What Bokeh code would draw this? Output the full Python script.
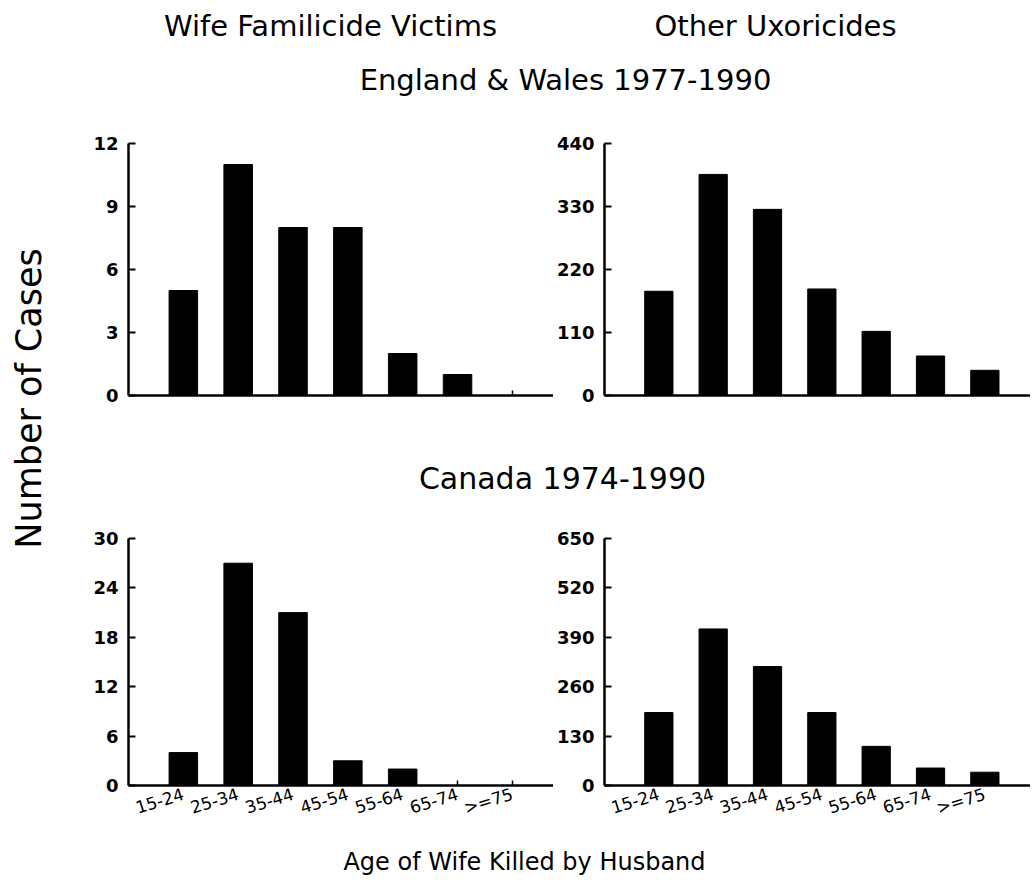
import math
from bokeh.plotting import figure
from bokeh.layouts import row, column
from bokeh.models import Label, FixedTicker, Range1d
from bokeh.embed import file_html
from bokeh.resources import INLINE

# ---- data ----
age_groups = ["15-24", "25-34", "35-44", "45-54", "55-64", "65-74", ">=75"]
ew_familicide = [5, 11, 8, 8, 2, 1, 0]
ew_other = [182, 386, 325, 186, 112, 69, 44]
ca_familicide = [4, 27, 21, 3, 2, 0, 0]
ca_other = [192, 412, 313, 192, 103, 46, 35]

ew_familicide_ticks = [0, 3, 6, 9, 12]
ew_other_ticks = [0, 110, 220, 330, 440]
ca_familicide_ticks = [0, 6, 12, 18, 24, 30]
ca_other_ticks = [0, 130, 260, 390, 520, 650]

col_titles = ["Wife Familicide Victims", "Other Uxoricides"]
row_titles = ["England & Wales 1977-1990", "Canada 1974-1990"]
y_title = "Number of Cases"
x_title = "Age of Wife Killed by Husband"

FONT = "DejaVu Sans"
positions = list(range(1, len(age_groups) + 1))
label_map = {float(p): c for p, c in zip(positions, age_groups)}


def panel(values, ticks, width, border_left, x_end, height, border_top, border_bottom, show_labels):
    p = figure(width=width, height=height,
               x_range=Range1d(0, x_end), y_range=Range1d(0, ticks[-1]),
               output_backend="svg", toolbar_location=None,
               min_border_left=border_left, min_border_right=0,
               min_border_top=border_top, min_border_bottom=border_bottom)
    p.vbar(x=positions, top=values, width=0.52, fill_color="black", line_color="black")
    p.xgrid.visible = False
    p.ygrid.visible = False
    p.outline_line_color = None

    ya = p.yaxis[0]
    ya.ticker = FixedTicker(ticks=ticks)
    ya.axis_line_width = 2.5
    ya.major_tick_line_width = 2
    ya.major_tick_in = 7
    ya.major_tick_out = 0
    ya.minor_tick_line_color = None
    ya.major_label_standoff = 10
    ya.major_label_text_font = FONT
    ya.major_label_text_font_style = "bold"
    ya.major_label_text_font_size = "18px"
    ya.major_label_text_color = "black"

    xa = p.xaxis[0]
    xa.axis_line_width = 2.5
    xa.major_label_text_font = FONT
    xa.major_label_text_color = "black"
    if show_labels:
        xa.ticker = FixedTicker(ticks=positions)
        xa.major_label_overrides = label_map
        xa.major_tick_line_width = 1.5
        xa.major_tick_in = 5
        xa.major_tick_out = 0
        xa.minor_tick_line_color = None
        xa.major_label_text_font_size = "17px"
        xa.major_label_orientation = 0.3
        xa.major_label_standoff = 8
    else:
        # category tick marks only, no labels on the upper panels
        xa.ticker = FixedTicker(ticks=[], minor_ticks=positions)
        xa.minor_tick_line_color = "black"
        xa.minor_tick_line_width = 1.5
        xa.minor_tick_in = 5
        xa.minor_tick_out = 0
        xa.major_tick_line_color = None
    return p


def blank(width, height):
    p = figure(width=width, height=height, output_backend="svg", toolbar_location=None,
               x_axis_type=None, y_axis_type=None, min_border=0,
               x_range=Range1d(0, 1), y_range=Range1d(0, 1))
    p.outline_line_color = None
    return p


def add_text(p, text, x, y, size, angle=0.0):
    p.add_layout(Label(x=x, y=y, x_units="screen", y_units="screen", text=text,
                       text_font=FONT, text_font_size=size, text_color="black",
                       text_align="center", text_baseline="middle", angle=angle))


STRIP_W = 68
LEFT_W, RIGHT_W = 485, 477
TOP_H, BOT_H = 315, 325
HEAD_H, MID_H, FOOT_H = 125, 70, 43
TOTAL_H = HEAD_H + TOP_H + MID_H + BOT_H + FOOT_H

tl = panel(ew_familicide, ew_familicide_ticks, LEFT_W, 60, 7.75, TOP_H, 18, 45, False)
tr = panel(ew_other, ew_other_ticks, RIGHT_W, 50, 7.84, TOP_H, 18, 45, False)
bl = panel(ca_familicide, ca_familicide_ticks, LEFT_W, 60, 7.75, BOT_H, 28, 50, True)
br = panel(ca_other, ca_other_ticks, RIGHT_W, 50, 7.84, BOT_H, 28, 50, True)

header = blank(LEFT_W + RIGHT_W, HEAD_H)
add_text(header, col_titles[0], 262, 100, "29px")
add_text(header, col_titles[1], 707, 100, "29px")
add_text(header, row_titles[0], 497, 46, "29px")

mid = blank(LEFT_W + RIGHT_W, MID_H)
add_text(mid, row_titles[1], 494, 32, "30px")

footer = blank(LEFT_W + RIGHT_W, FOOT_H)
add_text(footer, x_title, 456, 17, "24px")

strip = blank(STRIP_W, TOTAL_H)
add_text(strip, y_title, 28, TOTAL_H - 398, "35px", angle=math.pi / 2)

layout = row(strip, column(header, row(tl, tr), mid, row(bl, br), footer))

open("out.html", "w").write(file_html(layout, INLINE))
